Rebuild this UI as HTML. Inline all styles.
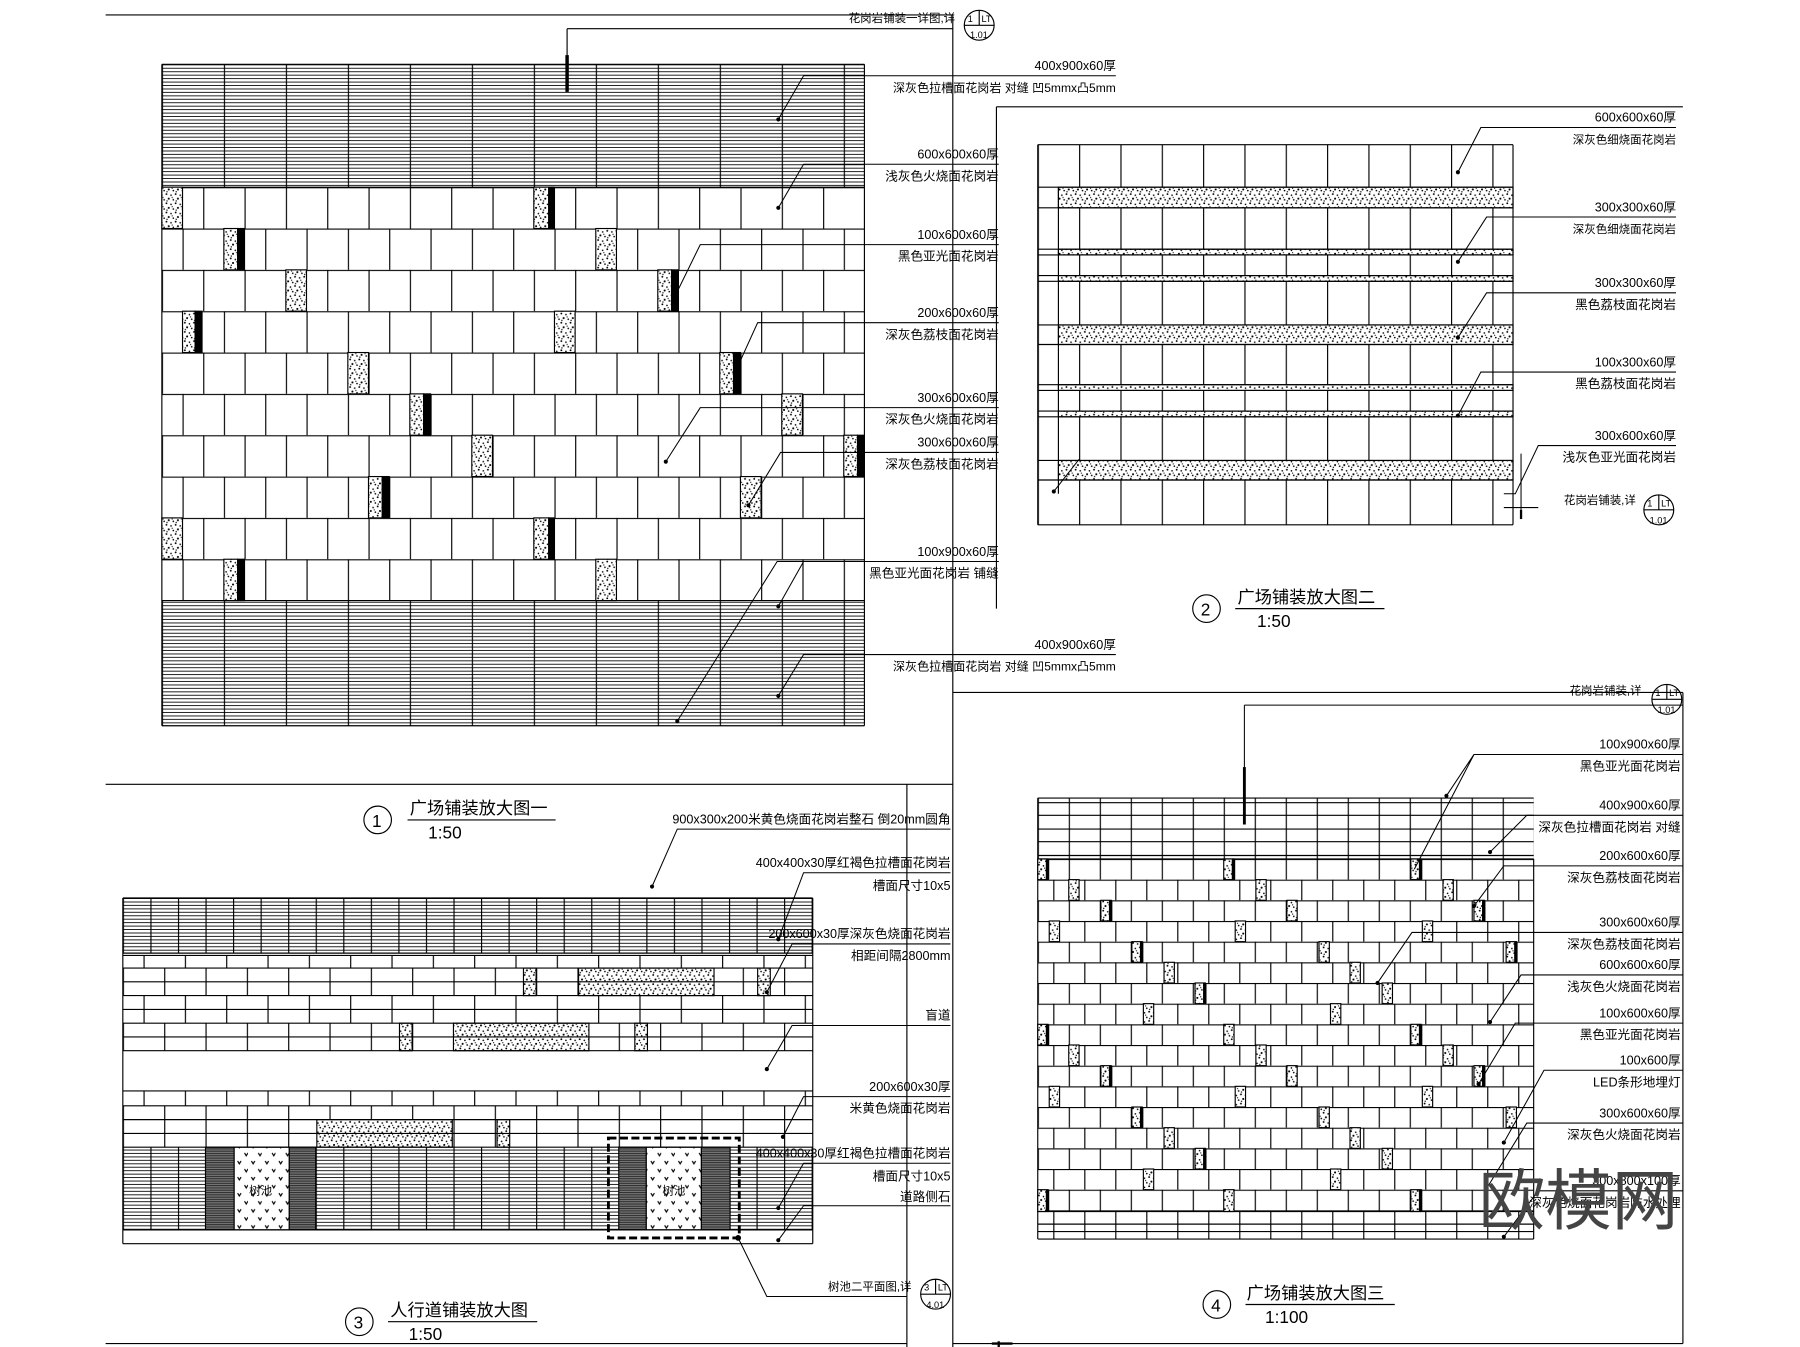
<!DOCTYPE html>
<html><head><meta charset="utf-8"><style>
html,body{margin:0;padding:0;background:#fff;width:1800px;height:1347px;overflow:hidden}
svg{display:block}
text{font-family:"Liberation Sans","Noto Sans CJK SC",sans-serif;fill:#000}
.l{font-size:11px;text-anchor:end}
.t{font-size:15px}
</style></head><body>
<svg width="1800" height="1347" viewBox="0 0 1568 1173" preserveAspectRatio="none" xmlns="http://www.w3.org/2000/svg">
<defs>
<pattern id="h1" patternUnits="userSpaceOnUse" x="141" y="56" width="54" height="3"><path d="M0 0.5H54" stroke="#000" stroke-width="0.7"/><path d="M0.5 0V3" stroke="#000" stroke-width="1"/></pattern>
<pattern id="h3" patternUnits="userSpaceOnUse" x="107" y="782" width="24" height="3"><path d="M0 0.5H24" stroke="#000" stroke-width="0.7"/><path d="M0.5 0V3" stroke="#000" stroke-width="1"/></pattern>
<pattern id="p1A" patternUnits="userSpaceOnUse" x="141" y="163" width="36" height="36"><path d="M0 0.5H36M0.5 0V36" stroke="#000" stroke-width="1" fill="none"/></pattern>
<pattern id="p1B" patternUnits="userSpaceOnUse" x="159" y="163" width="36" height="36"><path d="M0 0.5H36M0.5 0V36" stroke="#000" stroke-width="1" fill="none"/></pattern>
<pattern id="p2" patternUnits="userSpaceOnUse" x="904" y="126" width="36" height="600"><path d="M0.5 0V600" stroke="#000" stroke-width="1"/></pattern>
<pattern id="p3A" patternUnits="userSpaceOnUse" x="107" y="0" width="36" height="600"><path d="M0.5 0V600" stroke="#000" stroke-width="1"/></pattern>
<pattern id="p3B" patternUnits="userSpaceOnUse" x="125" y="0" width="36" height="600"><path d="M0.5 0V600" stroke="#000" stroke-width="1"/></pattern>
<pattern id="p4A" patternUnits="userSpaceOnUse" x="904" y="748" width="27" height="18"><path d="M0 0.5H27M0.5 0V18" stroke="#000" stroke-width="1" fill="none"/></pattern>
<pattern id="p4B" patternUnits="userSpaceOnUse" x="917.5" y="748" width="27" height="18"><path d="M0 0.5H27M0.5 0V18" stroke="#000" stroke-width="1" fill="none"/></pattern>
<pattern id="p4C" patternUnits="userSpaceOnUse" x="904" y="0" width="27" height="600"><path d="M0.5 0V600" stroke="#000" stroke-width="1"/></pattern>
<pattern id="sp" patternUnits="userSpaceOnUse" width="8" height="8"><rect width="8" height="8" fill="#fff"/><g fill="#000"><circle cx="1" cy="1" r="0.8"/><circle cx="5" cy="2" r="0.7"/><circle cx="3" cy="5" r="0.9"/><circle cx="7" cy="6" r="0.7"/><circle cx="1.5" cy="7" r="0.6"/><circle cx="6" cy="4" r="0.5"/></g></pattern>
<pattern id="tp" patternUnits="userSpaceOnUse" width="12" height="14"><rect width="12" height="14" fill="#fff"/><path d="M3 3l1.5 2.5L6 3M9 10l1.5 2.5L12 10" stroke="#000" stroke-width="1" fill="none"/></pattern>
<pattern id="dk" patternUnits="userSpaceOnUse" width="4" height="2"><rect width="4" height="2" fill="#777"/><path d="M0 0.5H4" stroke="#222" stroke-width="0.8"/></pattern>
</defs>
<g stroke="#000" fill="none" stroke-width="1">
<!-- frame -->
<path d="M92 13H830M830 13V1173M92 683H830M790 683V1173M92 1170H790M830 1170H1466M830 603H1466M1466 603V1170M868 93H1466M868 93V530"/>
<path d="M494 25H830M494 25V80" />
<path d="M494 48V80" stroke-width="3"/>
</g>

<!-- PANEL 1 -->
<rect x="141" y="56" width="612" height="107" fill="url(#h1)"/>
<rect x="141" y="523" width="612" height="109" fill="url(#h1)"/>
<g>
<rect x="141" y="163" width="612" height="36" fill="url(#p1A)"/>
<rect x="141" y="199" width="612" height="36" fill="url(#p1B)"/>
<rect x="141" y="235" width="612" height="36" fill="url(#p1A)"/>
<rect x="141" y="271" width="612" height="36" fill="url(#p1B)"/>
<rect x="141" y="307" width="612" height="36" fill="url(#p1A)"/>
<rect x="141" y="343" width="612" height="36" fill="url(#p1B)"/>
<rect x="141" y="379" width="612" height="36" fill="url(#p1A)"/>
<rect x="141" y="415" width="612" height="36" fill="url(#p1B)"/>
<rect x="141" y="451" width="612" height="36" fill="url(#p1A)"/>
<rect x="141" y="487" width="612" height="36" fill="url(#p1B)"/>
</g>
<path d="M141 163H753M141 523H753M141 56H753M141 632H753M753 56V632M141 56V632" stroke="#000" fill="none"/>
<g stroke="#000" stroke-width="1">
<rect x="141" y="163" width="18" height="36" fill="url(#sp)"/>
<rect x="465" y="163" width="13" height="36" fill="url(#sp)"/><rect x="478" y="163" width="5" height="36" fill="#000"/>
<rect x="195" y="199" width="12" height="36" fill="url(#sp)"/><rect x="207" y="199" width="6" height="36" fill="#000"/>
<rect x="519" y="199" width="18" height="36" fill="url(#sp)"/>
<rect x="249" y="235" width="18" height="36" fill="url(#sp)"/>
<rect x="573" y="235" width="12" height="36" fill="url(#sp)"/><rect x="585" y="235" width="6" height="36" fill="#000"/>
<rect x="159" y="271" width="11" height="36" fill="url(#sp)"/><rect x="170" y="271" width="6" height="36" fill="#000"/>
<rect x="483" y="271" width="18" height="36" fill="url(#sp)"/>
<rect x="303" y="307" width="18" height="36" fill="url(#sp)"/>
<rect x="627" y="307" width="12" height="36" fill="url(#sp)"/><rect x="639" y="307" width="6" height="36" fill="#000"/>
<rect x="357" y="343" width="12" height="36" fill="url(#sp)"/><rect x="369" y="343" width="6" height="36" fill="#000"/>
<rect x="681" y="343" width="18" height="36" fill="url(#sp)"/>
<rect x="411" y="379" width="18" height="36" fill="url(#sp)"/>
<rect x="735" y="379" width="12" height="36" fill="url(#sp)"/><rect x="747" y="379" width="6" height="36" fill="#000"/>
<rect x="321" y="415" width="12" height="36" fill="url(#sp)"/><rect x="333" y="415" width="6" height="36" fill="#000"/>
<rect x="645" y="415" width="18" height="36" fill="url(#sp)"/>
<rect x="141" y="451" width="18" height="36" fill="url(#sp)"/>
<rect x="465" y="451" width="13" height="36" fill="url(#sp)"/><rect x="478" y="451" width="5" height="36" fill="#000"/>
<rect x="195" y="487" width="12" height="36" fill="url(#sp)"/><rect x="207" y="487" width="6" height="36" fill="#000"/>
<rect x="519" y="487" width="18" height="36" fill="url(#sp)"/>
</g>
<!-- panel1 leaders -->
<g stroke="#000" fill="none" stroke-width="0.9">
<path d="M972 66H700L678 104"/><path d="M870 143H700L678 181"/><path d="M870 213H610L586 262"/>
<path d="M870 281H660L640 325"/><path d="M870 355H610L580 402"/><path d="M870 394H680L652 440"/>
<path d="M870 489H677L590 628"/><path d="M870 489H700L678 528"/><path d="M972 570H700L678 606"/>
</g>
<g fill="#000"><circle cx="678" cy="104" r="1.8"/><circle cx="678" cy="181" r="1.8"/><circle cx="586" cy="262" r="1.8"/><circle cx="640" cy="325" r="1.8"/><circle cx="580" cy="402" r="1.8"/><circle cx="652" cy="440" r="1.8"/><circle cx="590" cy="628" r="1.8"/><circle cx="678" cy="528" r="1.8"/><circle cx="678" cy="606" r="1.8"/></g>
<text class="l" x="972" y="61">400x900x60厚</text>
<text class="l" x="972" y="80" style="font-size:10.5px">深灰色拉槽面花岗岩 对缝 凹5mmx凸5mm</text>
<text class="l" x="870" y="138">600x600x60厚</text><text class="l" x="870" y="157">浅灰色火烧面花岗岩</text>
<text class="l" x="870" y="208">100x600x60厚</text><text class="l" x="870" y="227">黑色亚光面花岗岩</text>
<text class="l" x="870" y="276">200x600x60厚</text><text class="l" x="870" y="295">深灰色荔枝面花岗岩</text>
<text class="l" x="870" y="350">300x600x60厚</text><text class="l" x="870" y="369">深灰色火烧面花岗岩</text>
<text class="l" x="870" y="389">300x600x60厚</text><text class="l" x="870" y="408">深灰色荔枝面花岗岩</text>
<text class="l" x="870" y="484">100x900x60厚</text><text class="l" x="870" y="503">黑色亚光面花岗岩 铺缝</text>
<text class="l" x="972" y="565">400x900x60厚</text>
<text class="l" x="972" y="584" style="font-size:10.5px">深灰色拉槽面花岗岩 对缝 凹5mmx凸5mm</text>
<text class="l" x="832" y="19" style="font-size:10px">花岗岩铺装一详图,详</text>
<g stroke="#000" fill="none"><circle cx="853" cy="22" r="13"/><path d="M840 22H866M853 9V22"/></g>
<text x="843" y="19" style="font-size:8px">1</text><text x="855" y="19" style="font-size:8px">LT</text><text x="845" y="33" style="font-size:8px">1.01</text>
<g stroke="#000" fill="none"><circle cx="329" cy="714" r="12"/><path d="M355 714H484"/></g>
<text x="324" y="720" style="font-size:15px">1</text>
<text class="t" x="357" y="709">广场铺装放大图一</text><text class="t" x="373" y="730">1:50</text>

<!-- PANEL 2 -->
<rect x="904" y="126" width="414" height="331" fill="url(#p2)"/>
<g stroke="#000">
<rect x="922" y="163" width="396" height="18" fill="url(#sp)"/>
<rect x="922" y="217" width="396" height="5" fill="url(#sp)"/>
<rect x="922" y="240" width="396" height="5" fill="url(#sp)"/>
<rect x="922" y="283" width="396" height="17" fill="url(#sp)"/>
<rect x="922" y="335" width="396" height="5" fill="url(#sp)"/>
<rect x="922" y="358" width="396" height="5" fill="url(#sp)"/>
<rect x="922" y="401" width="396" height="17" fill="url(#sp)"/>
</g>
<path d="M904 126H1318M904 163H1318M904 181H1318M904 217H1318M904 222H1318M904 240H1318M904 245H1318M904 283H1318M904 300H1318M904 335H1318M904 340H1318M904 358H1318M904 363H1318M904 401H1318M904 418H1318M904 457H1318M904 126V457M1318 126V457M922 163V430" stroke="#000" fill="none"/>
<g stroke="#000" fill="none" stroke-width="0.9">
<path d="M1460 111H1290L1270 150"/><path d="M1460 189H1295L1270 228"/><path d="M1460 255H1295L1270 294"/>
<path d="M1460 324H1290L1270 362"/><path d="M1460 388H1340L1320 430H1310"/><path d="M1310 442H1340M1325 395L1325 452"/>
<path d="M1325 444V452" stroke-width="2"/>
<path d="M940 400L918 428"/>
</g>
<g fill="#000"><circle cx="1270" cy="150" r="1.8"/><circle cx="1270" cy="228" r="1.8"/><circle cx="1270" cy="294" r="1.8"/><circle cx="1270" cy="362" r="1.8"/><circle cx="918" cy="428" r="1.8"/></g>
<text class="l" x="1460" y="106">600x600x60厚</text><text class="l" x="1460" y="125" style="font-size:10px">深灰色细烧面花岗岩</text>
<text class="l" x="1460" y="184">300x300x60厚</text><text class="l" x="1460" y="203" style="font-size:10px">深灰色细烧面花岗岩</text>
<text class="l" x="1460" y="250">300x300x60厚</text><text class="l" x="1460" y="269">黑色荔枝面花岗岩</text>
<text class="l" x="1460" y="319">100x300x60厚</text><text class="l" x="1460" y="338">黑色荔枝面花岗岩</text>
<text class="l" x="1460" y="383">300x600x60厚</text><text class="l" x="1460" y="402">浅灰色亚光面花岗岩</text>
<text class="l" x="1425" y="439" style="font-size:10px">花岗岩铺装,详</text>
<g stroke="#000" fill="none"><circle cx="1445" cy="444" r="13"/><path d="M1432 444H1458M1445 431V444"/></g>
<text x="1435" y="441" style="font-size:8px">1</text><text x="1447" y="441" style="font-size:8px">LT</text><text x="1437" y="456" style="font-size:8px">1.01</text>
<g stroke="#000" fill="none"><circle cx="1051" cy="530" r="12"/><path d="M1076 530H1206"/></g>
<text x="1046" y="536" style="font-size:15px">2</text>
<text class="t" x="1078" y="525">广场铺装放大图二</text><text class="t" x="1095" y="546">1:50</text>

<!-- PANEL 3 -->
<rect x="107" y="782" width="601" height="48" fill="url(#h3)"/>
<rect x="107" y="832" width="601" height="11" fill="url(#p3B)"/>
<rect x="107" y="843" width="601" height="24" fill="url(#p3A)"/>
<rect x="107" y="867" width="601" height="24" fill="url(#p3B)"/>
<rect x="107" y="891" width="601" height="24" fill="url(#p3A)"/>
<rect x="107" y="950" width="601" height="13" fill="url(#p3B)"/>
<rect x="107" y="963" width="601" height="24" fill="url(#p3A)"/>
<rect x="107" y="987" width="601" height="12" fill="url(#p3A)"/>
<rect x="107" y="999" width="601" height="72" fill="url(#h3)"/>
<g stroke="#000">
<rect x="456" y="843" width="11" height="24" fill="url(#sp)"/>
<rect x="504" y="843" width="118" height="24" fill="url(#sp)"/>
<rect x="660" y="843" width="11" height="24" fill="url(#sp)"/>
<rect x="348" y="891" width="11" height="24" fill="url(#sp)"/>
<rect x="395" y="891" width="118" height="24" fill="url(#sp)"/>
<rect x="553" y="891" width="11" height="24" fill="url(#sp)"/>
<rect x="276" y="975" width="118" height="24" fill="url(#sp)"/>
<rect x="433" y="975" width="11" height="24" fill="url(#sp)"/>
<rect x="179" y="999" width="25" height="72" fill="url(#dk)"/><rect x="204" y="999" width="48" height="72" fill="url(#tp)"/><rect x="252" y="999" width="23" height="72" fill="url(#dk)"/>
<rect x="539" y="999" width="24" height="72" fill="url(#dk)"/><rect x="563" y="999" width="48" height="72" fill="url(#tp)"/><rect x="611" y="999" width="25" height="72" fill="url(#dk)"/>
</g>
<path d="M107 782H708M107 830H708M107 832H708M107 843H708M107 855H708M107 867H708M107 879H708M107 891H708M107 903H708M107 915H708M107 950H708M107 963H708M107 975H708M107 987H708M107 999H708M107 1071H708M107 1083H708M107 782V1083M708 782V1083" stroke="#000" fill="none"/>
<rect x="530" y="991" width="114" height="87" fill="none" stroke="#000" stroke-width="2.5" stroke-dasharray="7,3"/>
<text x="217" y="1040" style="font-size:10px">树池</text><text x="577" y="1040" style="font-size:10px">树池</text>
<g stroke="#000" fill="none" stroke-width="0.9">
<path d="M828 722H590L568 772"/><path d="M828 760H700L678 818"/><path d="M828 822H690L668 864"/>
<path d="M828 893H690L668 931"/><path d="M828 955H700L682 990"/><path d="M828 1013H700L678 1052"/>
<path d="M828 1050H700L678 1080"/><path d="M790 1129H668L643 1078"/>
</g>
<g fill="#000"><circle cx="568" cy="772" r="1.8"/><circle cx="678" cy="818" r="1.8"/><circle cx="668" cy="864" r="1.8"/><circle cx="668" cy="931" r="1.8"/><circle cx="682" cy="990" r="1.8"/><circle cx="678" cy="1052" r="1.8"/><circle cx="678" cy="1080" r="1.8"/><circle cx="643" cy="1078" r="2.5"/></g>
<text class="l" x="828" y="717">900x300x200米黄色烧面花岗岩整石  倒20mm圆角</text>
<text class="l" x="828" y="755">400x400x30厚红褐色拉槽面花岗岩</text><text class="l" x="828" y="775">槽面尺寸10x5</text>
<text class="l" x="828" y="817">200x600x30厚深灰色烧面花岗岩</text><text class="l" x="828" y="836">相距间隔2800mm</text>
<text class="l" x="828" y="888">盲道</text>
<text class="l" x="828" y="950">200x600x30厚</text><text class="l" x="828" y="969">米黄色烧面花岗岩</text>
<text class="l" x="828" y="1008">400x400x30厚红褐色拉槽面花岗岩</text><text class="l" x="828" y="1028">槽面尺寸10x5</text><text class="l" x="828" y="1046">道路侧石</text>
<text class="l" x="794" y="1124" style="font-size:10px">树池二平面图,详</text>
<g stroke="#000" fill="none"><circle cx="815" cy="1127" r="13"/><path d="M802 1127H828M815 1114V1127"/></g>
<text x="805" y="1124" style="font-size:8px">3</text><text x="817" y="1124" style="font-size:8px">LT</text><text x="807" y="1139" style="font-size:8px">4.01</text>
<g stroke="#000" fill="none"><circle cx="313" cy="1151" r="12"/><path d="M338 1151H468"/></g>
<text x="308" y="1157" style="font-size:15px">3</text>
<text class="t" x="340" y="1146">人行道铺装放大图</text><text class="t" x="356" y="1167">1:50</text>

<!-- PANEL 4 -->
<rect x="904" y="695" width="432" height="53" fill="url(#p4C)"/>
<rect x="904" y="748" width="432" height="18" fill="url(#p4A)"/>
<rect x="904" y="766" width="432" height="18" fill="url(#p4B)"/>
<rect x="904" y="784" width="432" height="18" fill="url(#p4A)"/>
<rect x="904" y="802" width="432" height="18" fill="url(#p4B)"/>
<rect x="904" y="820" width="432" height="18" fill="url(#p4A)"/>
<rect x="904" y="838" width="432" height="18" fill="url(#p4B)"/>
<rect x="904" y="856" width="432" height="18" fill="url(#p4A)"/>
<rect x="904" y="874" width="432" height="18" fill="url(#p4B)"/>
<rect x="904" y="892" width="432" height="18" fill="url(#p4A)"/>
<rect x="904" y="910" width="432" height="18" fill="url(#p4B)"/>
<rect x="904" y="928" width="432" height="18" fill="url(#p4A)"/>
<rect x="904" y="946" width="432" height="18" fill="url(#p4B)"/>
<rect x="904" y="964" width="432" height="18" fill="url(#p4A)"/>
<rect x="904" y="982" width="432" height="18" fill="url(#p4B)"/>
<rect x="904" y="1000" width="432" height="18" fill="url(#p4A)"/>
<rect x="904" y="1018" width="432" height="18" fill="url(#p4B)"/>
<rect x="904" y="1036" width="432" height="19" fill="url(#p4A)"/>
<rect x="904" y="1055" width="432" height="24" fill="url(#p4B)"/>
<path d="M904 695H1336M904 699H1336M904 710H1336M904 722H1336M904 733H1336M904 745H1336M904 748H1336M904 1055H1336M904 1066H1336M904 1079H1336M904 695V1079M1336 748V1079" stroke="#000" fill="none"/>
<g fill="url(#sp)" stroke="#000">
<rect x="904" y="748" width="9" height="18"/><rect x="1066" y="748" width="9" height="18"/><rect x="1229" y="748" width="9" height="18"/>
<rect x="931" y="766" width="9" height="18"/><rect x="1094" y="766" width="9" height="18"/><rect x="1257" y="766" width="9" height="18"/>
<rect x="959" y="784" width="9" height="18"/><rect x="1121" y="784" width="9" height="18"/><rect x="1284" y="784" width="9" height="18"/>
<rect x="914" y="802" width="9" height="18"/><rect x="1076" y="802" width="9" height="18"/><rect x="1239" y="802" width="9" height="18"/>
<rect x="986" y="820" width="9" height="18"/><rect x="1149" y="820" width="9" height="18"/><rect x="1312" y="820" width="9" height="18"/>
<rect x="1014" y="838" width="9" height="18"/><rect x="1176" y="838" width="9" height="18"/>
<rect x="1041" y="856" width="9" height="18"/><rect x="1204" y="856" width="9" height="18"/>
<rect x="996" y="874" width="9" height="18"/><rect x="1159" y="874" width="9" height="18"/>
<rect x="904" y="892" width="9" height="18"/><rect x="1066" y="892" width="9" height="18"/><rect x="1229" y="892" width="9" height="18"/>
<rect x="931" y="910" width="9" height="18"/><rect x="1094" y="910" width="9" height="18"/><rect x="1257" y="910" width="9" height="18"/>
<rect x="959" y="928" width="9" height="18"/><rect x="1121" y="928" width="9" height="18"/><rect x="1284" y="928" width="9" height="18"/>
<rect x="914" y="946" width="9" height="18"/><rect x="1076" y="946" width="9" height="18"/><rect x="1239" y="946" width="9" height="18"/>
<rect x="986" y="964" width="9" height="18"/><rect x="1149" y="964" width="9" height="18"/><rect x="1312" y="964" width="9" height="18"/>
<rect x="1014" y="982" width="9" height="18"/><rect x="1176" y="982" width="9" height="18"/>
<rect x="1041" y="1000" width="9" height="18"/><rect x="1204" y="1000" width="9" height="18"/>
<rect x="996" y="1018" width="9" height="18"/><rect x="1159" y="1018" width="9" height="18"/>
<rect x="904" y="1036" width="9" height="19"/><rect x="1066" y="1036" width="9" height="19"/><rect x="1229" y="1036" width="9" height="19"/>
</g>
<g fill="#000">
<rect x="911" y="748" width="3" height="18"/><rect x="1073" y="748" width="3" height="18"/><rect x="1236" y="748" width="3" height="18"/>
<rect x="966" y="784" width="3" height="18"/><rect x="1291" y="784" width="3" height="18"/>
<rect x="993" y="820" width="3" height="18"/><rect x="1319" y="820" width="3" height="18"/>
<rect x="1048" y="856" width="3" height="18"/><rect x="911" y="892" width="3" height="18"/><rect x="1236" y="892" width="3" height="18"/>
<rect x="966" y="928" width="3" height="18"/><rect x="1291" y="928" width="3" height="18"/>
<rect x="993" y="964" width="3" height="18"/><rect x="1048" y="1000" width="3" height="18"/>
<rect x="911" y="1036" width="3" height="19"/><rect x="1236" y="1036" width="3" height="19"/>
</g>
<g stroke="#000" fill="none" stroke-width="0.9">
<path d="M1084 614H1466M1084 614V690"/><path d="M1084 668V718" stroke-width="2.5"/>
<path d="M1466 657H1284L1232 757M1284 657L1260 693"/>
<path d="M1466 710H1330L1298 742"/><path d="M1466 754H1310L1284 789"/>
<path d="M1466 812H1230L1200 856"/><path d="M1466 849H1325L1298 890"/>
<path d="M1466 891H1320L1288 944"/><path d="M1466 932H1345L1310 995"/>
<path d="M1466 978H1330L1295 1035"/><path d="M1466 1037H1340L1310 1077"/>
</g>
<g fill="#000"><circle cx="1260" cy="693" r="1.8"/><circle cx="1298" cy="742" r="1.8"/><circle cx="1284" cy="789" r="1.8"/><circle cx="1200" cy="856" r="1.8"/><circle cx="1298" cy="890" r="1.8"/><circle cx="1288" cy="944" r="1.8"/><circle cx="1310" cy="995" r="1.8"/><circle cx="1295" cy="1035" r="1.8"/><circle cx="1310" cy="1077" r="1.8"/></g>
<text class="l" x="1464" y="652">100x900x60厚</text><text class="l" x="1464" y="671">黑色亚光面花岗岩</text>
<text class="l" x="1464" y="705">400x900x60厚</text><text class="l" x="1464" y="724">深灰色拉槽面花岗岩  对缝</text>
<text class="l" x="1464" y="749">200x600x60厚</text><text class="l" x="1464" y="768">深灰色荔枝面花岗岩</text>
<text class="l" x="1464" y="807">300x600x60厚</text><text class="l" x="1464" y="826">深灰色荔枝面花岗岩</text>
<text class="l" x="1464" y="844">600x600x60厚</text><text class="l" x="1464" y="863">浅灰色火烧面花岗岩</text>
<text class="l" x="1464" y="886">100x600x60厚</text><text class="l" x="1464" y="905">黑色亚光面花岗岩</text>
<text class="l" x="1464" y="927">100x600厚</text><text class="l" x="1464" y="946">LED条形地埋灯</text>
<text class="l" x="1464" y="973">300x600x60厚</text><text class="l" x="1464" y="992">深灰色火烧面花岗岩</text>
<text class="l" x="1464" y="1032">300x800x100厚</text><text class="l" x="1464" y="1051">深灰色烧面花岗岩防水处理</text>
<text class="l" x="1430" y="605" style="font-size:10px">花岗岩铺装,详</text>
<g stroke="#000" fill="none"><circle cx="1452" cy="609" r="13"/><path d="M1439 609H1465M1452 596V609"/></g>
<text x="1442" y="606" style="font-size:8px">1</text><text x="1454" y="606" style="font-size:8px">LT</text><text x="1444" y="621" style="font-size:8px">1.01</text>
<g stroke="#000" fill="none"><circle cx="1060" cy="1136" r="12"/><path d="M1085 1136H1215"/></g>
<text x="1055" y="1142" style="font-size:15px">4</text>
<text class="t" x="1086" y="1131">广场铺装放大图三</text><text class="t" x="1102" y="1152">1:100</text>
<text x="1288" y="1066" style="font-size:58px;fill:#444;font-family:'Noto Sans CJK SC',sans-serif">欧模网</text>
<path d="M870 1168V1173M864 1170H882" stroke="#000" stroke-width="2"/>
</svg>
</body></html>
